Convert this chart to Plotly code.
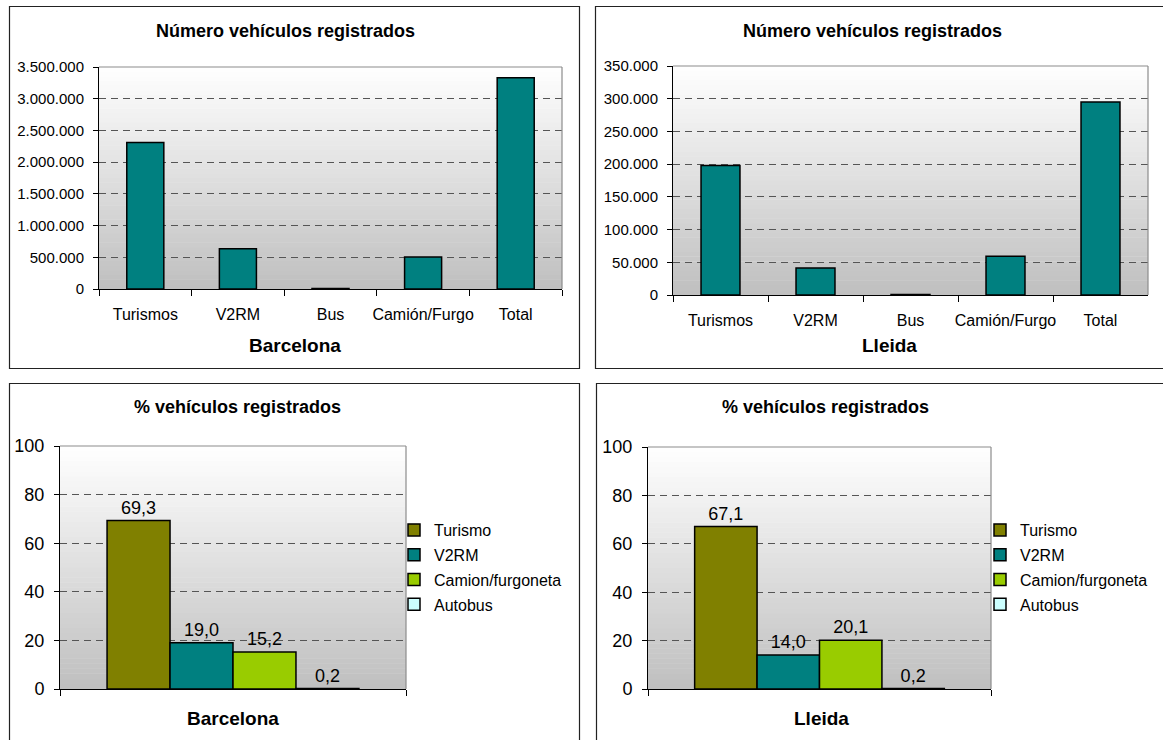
import plotly.graph_objects as go

W, H = 1163, 740
FONT = "Liberation Sans, Arial, sans-serif"

# Vehicle counts by type
categorias = ["Turismos", "V2RM", "Bus", "Camión/Furgo", "Total"]
barcelona_num = [2310000, 633000, 6700, 506000, 3330000]
lleida_num = [198000, 41300, 600, 59300, 295000]

# Share of registered vehicles (%)
series_pct = ["Turismo", "V2RM", "Camion/furgoneta", "Autobus"]
barcelona_pct = [69.3, 19.0, 15.2, 0.2]
lleida_pct = [67.1, 14.0, 20.1, 0.2]

colores_pct = ["#808000", "#008080", "#99CC00", "#CCFFFF"]
color_num = "#008080"


def dom_x(left, right):
    return [left / W, right / W]


def dom_y(top, bottom):
    return [1 - bottom / H, 1 - top / H]


# plot-area rectangles in pixels: (left, top, right, bottom)
areas = {
    1: (99, 67, 562, 289),
    2: (673, 66, 1148, 295),
    3: (60, 446, 406, 689),
    4: (648, 447, 991, 689),
}

fig = go.Figure()

fig.add_trace(go.Bar(
    x=categorias, y=barcelona_num, xaxis="x", yaxis="y", width=0.4,
    marker=dict(color=color_num, line=dict(color="black", width=1.5)),
    showlegend=False, hoverinfo="skip"))
fig.add_trace(go.Bar(
    x=categorias, y=lleida_num, xaxis="x2", yaxis="y2", width=0.41,
    marker=dict(color=color_num, line=dict(color="black", width=1.5)),
    showlegend=False, hoverinfo="skip"))

for ciudad, valores, ax, leg in (("Barcelona", barcelona_pct, "3", "legend"),
                                 ("Lleida", lleida_pct, "4", "legend2")):
    for nombre, v, col in zip(series_pct, valores, colores_pct):
        fig.add_trace(go.Bar(
            x=[ciudad], y=[v], name=nombre, xaxis="x" + ax, yaxis="y" + ax,
            legend=leg, legendgroup=ciudad + nombre,
            marker=dict(color=col, line=dict(color="black", width=1.5)),
            texttemplate="%{y:.1f}", textposition="outside",
            constraintext="none", cliponaxis=False,
            textfont=dict(family=FONT, size=18, color="black"),
            hoverinfo="skip"))

layout = dict(
    width=W, height=H,
    margin=dict(l=0, r=0, t=0, b=0, autoexpand=False),
    paper_bgcolor="white", plot_bgcolor="rgba(0,0,0,0)",
    font=dict(family=FONT, color="black"),
    separators=",.",
    barmode="group", bargap=0.272, bargroupgap=0,
)

ranges = {1: (3500000, 500000), 2: (350000, 50000), 3: (100, 20), 4: (100, 20)}
for k, (l, t, r, b) in areas.items():
    sx = "" if k == 1 else str(k)
    top_chart = k in (1, 2)
    layout["xaxis" + sx] = dict(
        domain=dom_x(l, r), anchor="y" + sx, type="category",
        showline=True, linecolor="black", linewidth=1,
        ticks="outside", ticklen=6, tickcolor="black", tickson="boundaries",
        showgrid=False, showticklabels=top_chart, tickangle=0,
        tickfont=dict(size=16), ticklabelstandoff=11, fixedrange=True,
        automargin=False)
    vmax, step = ranges[k]
    layout["yaxis" + sx] = dict(
        domain=dom_y(t, b), anchor="x" + sx, range=[0, vmax], dtick=step,
        tickformat=",d", showline=True, linecolor="black", linewidth=1,
        ticks="outside", ticklen=5, tickcolor="black",
        showgrid=True, gridcolor="#555555", griddash="7px,5px", gridwidth=1,
        zeroline=False, tickfont=dict(size=15 if top_chart else 18),
        ticklabelstandoff=6, fixedrange=True, automargin=False)

legend_common = dict(
    xanchor="left", yanchor="top", bgcolor="rgba(0,0,0,0)",
    font=dict(size=16), tracegroupgap=1, itemclick=False, itemdoubleclick=False)
layout["legend"] = dict(x=394 / W, y=1 - 513 / H, **legend_common)
layout["legend2"] = dict(x=980 / W, y=1 - 513 / H, **legend_common)

shapes = []
# vertical gray gradient behind each plot area, plus its top/right border
N = 48
for k in areas:
    sx = "" if k == 1 else str(k)
    xr, yr = f"x{sx} domain", f"y{sx} domain"
    for i in range(N):
        tmid = (i + 0.5) / N
        g = round(191 + (255 - 191) * tmid)
        shapes.append(dict(
            type="rect", xref=xr, yref=yr,
            x0=0, x1=1, y0=i / N, y1=(i + 1) / N + 0.002,
            fillcolor=f"rgb({g},{g},{g})", line=dict(width=0), layer="below"))
    shapes.append(dict(type="line", xref=xr, yref=yr, x0=0, x1=1, y0=1, y1=1,
                       line=dict(color="#8c8c8c", width=1.2), layer="above"))
    shapes.append(dict(type="line", xref=xr, yref=yr, x0=1, x1=1, y0=0, y1=1,
                       line=dict(color="#8c8c8c", width=1.2), layer="above"))

# chart frames
for (x0, y0, x1, y1) in ((9.5, 6.5, 579.5, 368.5), (595.5, 6.5, 1170, 368.5),
                         (9.5, 383.5, 579.5, 760), (596.5, 383.5, 1170, 760)):
    shapes.append(dict(
        type="rect", xref="paper", yref="paper",
        x0=x0 / W, x1=x1 / W, y0=1 - y1 / H, y1=1 - y0 / H,
        line=dict(color="#222222", width=1.2), fillcolor="rgba(0,0,0,0)",
        layer="above"))
layout["shapes"] = shapes


def label(text, cx, cy, size, bold=True):
    return dict(
        text=f"<b>{text}</b>" if bold else text, x=cx / W, y=1 - cy / H,
        xref="paper", yref="paper", xanchor="center", yanchor="middle",
        showarrow=False, font=dict(family=FONT, size=size, color="black"))


layout["annotations"] = [
    label("Número vehículos registrados", 285, 31, 18),
    label("Número vehículos registrados", 872, 31, 18),
    label("Barcelona", 295, 345, 19),
    label("Lleida", 889, 345, 19),
    label("% vehículos registrados", 237, 407, 18),
    label("% vehículos registrados", 825, 407, 18),
    label("Barcelona", 233, 718, 19),
    label("Lleida", 821, 718, 19),
]

fig.update_layout(**layout)
fig.write_html("out.html", config={"displayModeBar": False})
